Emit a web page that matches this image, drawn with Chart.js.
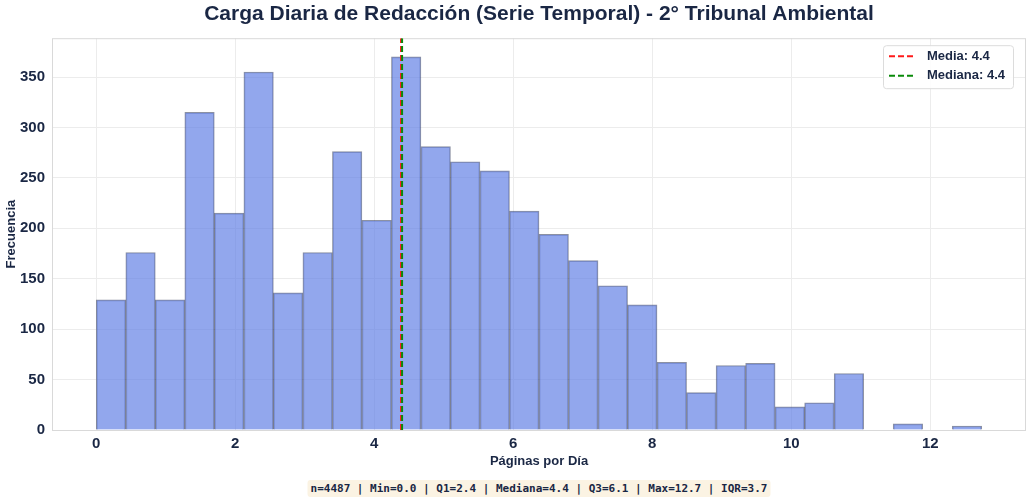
<!DOCTYPE html>
<html>
<head>
<meta charset="utf-8">
<script src="https://cdn.jsdelivr.net/npm/chart.js@4.4.1/dist/chart.umd.min.js"></script>
<style>
  body { margin: 0; background: #fff; }
  #wrap { position: relative; width: 1029px; height: 499px; }
  #stats {
    position: absolute; left: 539px; top: 480px; transform: translateX(-50%);
    font: bold 11px "DejaVu Sans Mono", monospace; color: #1a2744;
    background: #fbf3e3; padding: 2px 3px; border-radius: 3px; white-space: pre;
  }
</style>
</head>
<body>
<div id="wrap">
  <canvas id="hist" width="1029" height="499"></canvas>
  <div id="stats"></div>
</div>
<script>
// bin centres (Páginas por Día), 30 bins from 0 to 12.74
const binCenters = [0.212, 0.637, 1.062, 1.486, 1.911, 2.336, 2.760, 3.185, 3.610, 4.034,
                    4.459, 4.884, 5.308, 5.733, 6.158, 6.582, 7.007, 7.432, 7.856, 8.281,
                    8.706, 9.130, 9.555, 9.980, 10.404, 10.829, 11.254, 11.678, 12.103, 12.528];
const counts = [129, 176, 129, 315, 215, 355, 136, 176, 276, 208,
                370, 281, 266, 257, 217, 194, 168, 143, 124, 67,
                37, 64, 66, 23, 27, 56, 0, 6, 0, 4];
const xTicks = [0, 2, 4, 6, 8, 10, 12];
const yTicks = [0, 50, 100, 150, 200, 250, 300, 350];
const meanValue = 4.385;
const medianValue = 4.40;
const legendLabels = ['Media: 4.4', 'Mediana: 4.4'];
const statsText = 'n=4487 | Min=0.0 | Q1=2.4 | Mediana=4.4 | Q3=6.1 | Max=12.7 | IQR=3.7';

const xMin = -0.637, xMax = 13.377, yMax = 388.5;
const navy = '#1a2744';

document.getElementById('stats').textContent = statsText;

Chart.defaults.font.family = '"Liberation Sans", Arial, sans-serif';
Chart.defaults.color = navy;

// light frame round the plot area
const frame = {
  id: 'frame',
  beforeDatasetsDraw(chart) {
    const { ctx, chartArea: a } = chart;
    ctx.save();
    ctx.strokeStyle = '#d9d9d9';
    ctx.lineWidth = 1;
    ctx.strokeRect(a.left + 0.5, a.top + 0.5, a.right - a.left - 1, a.bottom - a.top);
    ctx.restore();
  }
};

// matplotlib-like legend box in the upper right corner
const boxLegend = {
  id: 'boxLegend',
  afterDraw(chart) {
    const { ctx, chartArea: a } = chart;
    const lines = chart.data.datasets.filter(d => d.type === 'line');
    const w = 130, h = 43;
    const x = a.right - 13 - w, y = a.top + 7;
    ctx.save();
    ctx.beginPath();
    ctx.roundRect(x + 0.5, y + 0.5, w, h, 3);
    ctx.fillStyle = 'rgba(255,255,255,0.9)';
    ctx.fill();
    ctx.strokeStyle = '#dcdcdc';
    ctx.lineWidth = 1;
    ctx.stroke();
    ctx.font = 'bold 13px "Liberation Sans", Arial, sans-serif';
    ctx.textBaseline = 'middle';
    lines.forEach((ds, i) => {
      const ly = y + 11 + i * 19.5;
      ctx.beginPath();
      ctx.setLineDash(ds.borderDash);
      ctx.strokeStyle = ds.borderColor;
      ctx.lineWidth = 2;
      ctx.moveTo(x + 6, ly);
      ctx.lineTo(x + 32, ly);
      ctx.stroke();
      ctx.setLineDash([]);
      ctx.fillStyle = navy;
      ctx.fillText(ds.label, x + 44, ly);
    });
    ctx.restore();
  }
};

new Chart(document.getElementById('hist'), {
  type: 'bar',
  data: {
    datasets: [
      {
        label: 'Frecuencia',
        data: binCenters.map((c, i) => ({ x: c, y: counts[i] })),
        backgroundColor: 'rgba(100,130,230,0.7)',
        borderColor: 'rgba(25,35,70,0.5)',
        borderWidth: 1,
        borderSkipped: 'bottom',
        barPercentage: 1,
        categoryPercentage: 1,
        order: 3
      },
      {
        type: 'line',
        label: legendLabels[0],
        data: [{ x: meanValue, y: 0 }, { x: meanValue, y: yMax }],
        borderColor: '#ff1a1a',
        borderWidth: 2,
        borderDash: [6, 3],
        pointRadius: 0,
        order: 2
      },
      {
        type: 'line',
        label: legendLabels[1],
        data: [{ x: medianValue, y: 0 }, { x: medianValue, y: yMax }],
        borderColor: '#0a8a0a',
        borderWidth: 2,
        borderDash: [6, 3],
        pointRadius: 0,
        order: 1
      }
    ]
  },
  options: {
    responsive: false,
    animation: false,
    layout: { padding: { top: 0, right: 3, bottom: 19, left: 0 } },
    plugins: {
      legend: { display: false },
      tooltip: { enabled: false },
      title: {
        display: true,
        fullSize: false,
        text: 'Carga Diaria de Redacción (Serie Temporal) - 2° Tribunal Ambiental',
        color: navy,
        font: { size: 21, weight: 'bold' },
        padding: { top: 2, bottom: 11 }
      }
    },
    scales: {
      x: {
        type: 'linear',
        min: xMin,
        max: xMax,
        offset: false,
        afterFit: s => { s.height = 50; },
        afterBuildTicks: s => { s.ticks = xTicks.map(v => ({ value: v })); },
        grid: { color: '#ececec', offset: false, drawTicks: false },
        border: { display: false },
        ticks: { padding: 5, color: navy, font: { size: 15, weight: 'bold' } },
        title: {
          display: true,
          text: 'Páginas por Día',
          color: navy,
          font: { size: 13, weight: 'bold' },
          padding: { top: 0, bottom: 11 }
        }
      },
      y: {
        min: 0,
        max: yMax,
        afterFit: s => { s.width = 52; },
        afterBuildTicks: s => { s.ticks = yTicks.map(v => ({ value: v })); },
        grid: { color: '#ececec', drawTicks: false },
        border: { display: false },
        ticks: { padding: 7, color: navy, font: { size: 15, weight: 'bold' } },
        title: {
          display: true,
          text: 'Frecuencia',
          color: navy,
          font: { size: 13, weight: 'bold' },
          padding: { top: 4, bottom: 0 }
        }
      }
    }
  },
  plugins: [frame, boxLegend]
});
</script>
</body>
</html>
